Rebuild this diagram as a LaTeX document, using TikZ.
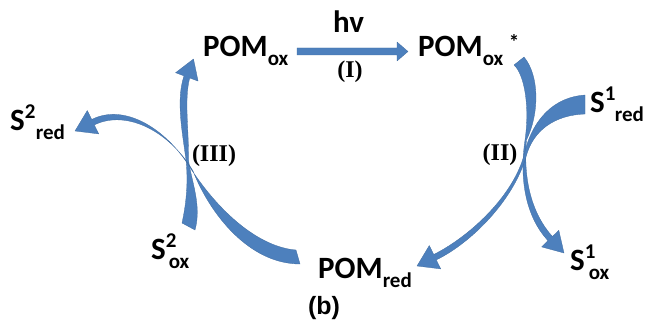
\documentclass[tikz,border=0pt]{standalone}
\usepackage{fontspec}
\setmainfont{Carlito}
\newfontfamily\tnr{Liberation Serif}
\newfontfamily\arl{Liberation Sans}
\definecolor{arrowblue}{RGB}{77,128,189}
\newcommand\subf{\fontsize{21}{21}\selectfont}
\newcommand\spc[4]{#1\rlap{\raisebox{12pt}{\subf #2}}\hspace{#4}\raisebox{-9pt}{\subf #3}}
\tikzset{
  species/.style={anchor=base west, inner sep=0pt, font=\fontsize{31}{31}\selectfont\bfseries},
  steplabel/.style={inner sep=0pt, font=\tnr\fontsize{24}{24}\selectfont\bfseries},
  bluearrow/.style={fill=arrowblue, draw=arrowblue!85!black, line width=0.3pt, line join=round}
}
\begin{document}
\begin{tikzpicture}[x=1pt,y=-1pt]
\useasboundingbox (0,0) rectangle (645,321);
% texts
\node[species] (pomox) at (203,57) {POM\raisebox{-9pt}{\subf ox}};
\node[species] (pomoxs) at (418,57) {POM\raisebox{-9pt}{\subf ox}};
\node[inner sep=0pt, font=\subf\bfseries] (star) at (514,42) {*};
\node[species] (hv) at (333,33) {hv};
\node[steplabel] (l1) at (350,72) {(I)};
\node[steplabel] (l2) at (500,155) {(II)};
\node[steplabel] (l3) at (214,156) {(III)};
\node[species] (s2red) at (10,130) {\spc{S}{2}{red}{11pt}};
\node[species] (s2ox) at (151,259) {\spc{S}{2}{ox}{3pt}};
\node[species] (pomred) at (318,278) {POM\raisebox{-9pt}{\subf red}};
\node[species] (s1red) at (590,112) {\spc{S}{1}{red}{10pt}};
\node[species] (s1ox) at (570,270) {\spc{S}{1}{ox}{4pt}};
\node[inner sep=0pt, font=\arl\fontsize{25}{25}\selectfont\bfseries] (b) at (324,308) {(b)};
% (I) straight arrow
\fill[bluearrow] (297,48) -- (397,48) -- (397,42) -- (408,51.5) -- (397,61) -- (397,55) -- (297,55) -- cycle;
% (II) POMox* -> S1ox
\fill[bluearrow] (514,65) .. controls (524,74) and (530,105) .. (525,140)
  .. controls (519,180) and (526,217) .. (548.0,240.7) -- (541.6,246.9) -- (564,253)
  -- (558.8,230.3) -- (552.4,236.5) .. controls (532,214) and (523,180) .. (526.5,140)
  .. controls (540,112) and (539,75) .. (524,57) -- cycle;
% (II) S1red -> POMred
\fill[bluearrow] (585,95) .. controls (555,97) and (532,118) .. (523.5,157)
  .. controls (511,199) and (467,238) .. (433.7,254.5) -- (429.3,245.5) -- (417,266)
  -- (440.7,268.9) -- (436.3,259.9) .. controls (471,243) and (513,201) .. (526,157)
  .. controls (533,130) and (555,115) .. (585,114) -- cycle;
% (III) S2ox -> POMox
\fill[bluearrow] (182,223) .. controls (187,200) and (188,180) .. (186,160)
  .. controls (182,130) and (176,100) .. (184.0,75.85) -- (175.6,72.7) -- (193.5,59)
  -- (198.1,81.1) -- (189.7,77.95) .. controls (184,100) and (189,130) .. (188.5,160)
  .. controls (191,180) and (202,205) .. (195,230) -- cycle;
% (III) POMred -> S2red
\fill[bluearrow] (296,250) .. controls (259,247) and (220,213) .. (191,169)
  .. controls (166,128) and (124,103) .. (91.7,119.5) -- (87.3,110.5) -- (75,131)
  -- (98.7,133.9) -- (94.3,124.9) .. controls (127,109) and (170,132) .. (193,171)
  .. controls (210,214) and (249,264) .. (300,264) -- cycle;
\end{tikzpicture}
\end{document}
